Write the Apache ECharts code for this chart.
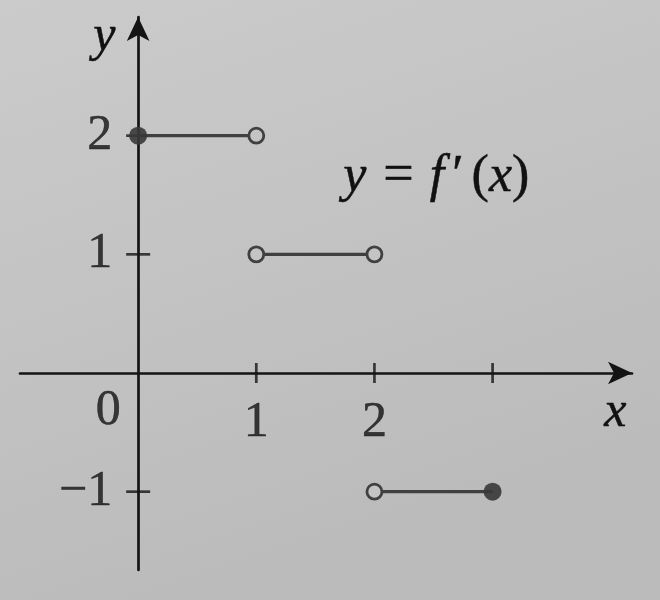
<!DOCTYPE html>
<html><head><meta charset="utf-8">
<script src="https://cdn.jsdelivr.net/npm/echarts@6/dist/echarts.min.js"></script>
<style>html,body{margin:0;padding:0;background:#c6c6c6;}#c{width:660px;height:600px;}</style>
</head><body><div id="c"></div>
<script>
// Piecewise segments of y = f'(x)
const segmentStartX = [0, 1, 2];
const segmentEndX = [1, 2, 3];
const segmentY = [2, 1, -1];
const startFilled = [true, false, false];
const endFilled = [false, false, true];
// Ticks and labels
const xTickValues = [1, 2, 3];
const xLabelValues = [1, 2];
const xLabelTexts = ['1', '2'];
const yTickValues = [2, 1, -1];
const yLabelValues = [2, 1, -1];
const yLabelTexts = ['2', '1', '\u22121'];
const originLabel = '0';

const INK = '#141414';
const TXT = '#111111';
const SEG = '#404040';
const BG = '#c4c4c4';
const SERIF = '"Liberation Serif", "DejaVu Serif", serif';
const NUM_FONT = 50;

const chart = echarts.init(document.getElementById('c'), null, {renderer: 'canvas'});

function endPoint(x, y, filled) {
  return {
    value: [x, y],
    symbol: 'circle',
    symbolSize: filled ? 18 : 15,
    itemStyle: filled
      ? {color: 'rgba(56,56,56,0.9)', borderWidth: 0}
      : {color: BG, borderColor: SEG, borderWidth: 2.8}
  };
}

const segSeries = segmentY.map((y, i) => ({
  type: 'line',
  z: 5,
  showAllSymbol: true,
  silent: true,
  lineStyle: {color: SEG, width: 3.2},
  data: [endPoint(segmentStartX[i], y, startFilled[i]), endPoint(segmentEndX[i], y, endFilled[i])]
}));

const numLabel = (extra) => Object.assign({
  show: true, fontSize: NUM_FONT, fontFamily: SERIF, color: TXT,
  textBorderColor: TXT, textBorderWidth: 0.5
}, extra);

const txtStyle = (font, pad) => ({font: font, fill: TXT, stroke: TXT, lineWidth: 0.5, padding: pad || 0});

const option = {
  backgroundColor: {
    type: 'linear', x: 0, y: 0, x2: 0.3, y2: 1,
    colorStops: [{offset: 0, color: '#cbcbcb'}, {offset: 1, color: '#bbbbbb'}]
  },
  animation: false,
  grid: {left: 20, right: 28, top: 17, bottom: 30, outerBoundsMode: 'none', containLabel: false},
  xAxis: {
    type: 'value', min: -1, max: 4.18,
    splitLine: {show: false},
    axisTick: {show: false},
    axisLabel: {show: false},
    axisLine: {onZero: true, symbol: ['none', 'arrow'], symbolSize: [17, 24], lineStyle: {color: INK, width: 2.7}}
  },
  yAxis: {
    type: 'value', min: -1.66, max: 3,
    splitLine: {show: false},
    axisTick: {show: false},
    axisLabel: {show: false},
    axisLine: {onZero: true, symbol: ['none', 'arrow'], symbolSize: [17, 24], lineStyle: {color: INK, width: 2.7}}
  },
  series: [
    {
      type: 'scatter', z: 3, symbol: 'rect', symbolSize: [2.7, 20], silent: true,
      itemStyle: {color: INK},
      data: xTickValues.map(v => [v, 0])
    },
    {
      type: 'scatter', z: 3, symbol: 'rect', symbolSize: [24, 2.7], silent: true,
      itemStyle: {color: INK},
      data: yTickValues.map(v => [0, v])
    },
    {
      type: 'scatter', z: 4, symbolSize: 0, silent: true,
      label: numLabel({position: [0, 50], align: 'center', verticalAlign: 'middle', formatter: p => xLabelTexts[p.dataIndex]}),
      data: xLabelValues.map(v => [v, 0])
    },
    {
      type: 'scatter', z: 4, symbolSize: 0, silent: true,
      label: numLabel({position: [-26, 0], align: 'right', verticalAlign: 'middle', formatter: p => yLabelTexts[p.dataIndex]}),
      data: yLabelValues.map(v => [0, v])
    },
    {
      type: 'scatter', z: 4, symbolSize: 0, silent: true,
      label: numLabel({position: [-30, 38], align: 'center', verticalAlign: 'middle', formatter: () => originLabel}),
      data: [[0, 0]]
    },
    ...segSeries
  ],
  graphic: [
    {type: 'text', left: 93, top: 12, style: {text: 'y', font: 'italic 50px ' + SERIF, fill: TXT, stroke: TXT, lineWidth: 0.5}},
    {type: 'text', left: 604, top: 388, style: {text: 'x', font: 'italic 50px ' + SERIF, fill: TXT, stroke: TXT, lineWidth: 0.5}},
    {type: 'text', left: 343, top: 150, style: {
      text: '{i|y}{e|=}{i|f}{p|\u2032}{q|(}{i|x}{r|)}',
      rich: {
        i: txtStyle('italic 52px ' + SERIF),
        e: txtStyle('54px ' + SERIF, [0, 16, 0, 17]),
        p: txtStyle('52px ' + SERIF, [0, 0, 0, 8]),
        q: txtStyle('52px ' + SERIF, [0, 0, 0, 8]),
        r: txtStyle('52px ' + SERIF)
      }
    }}
  ]
};
chart.setOption(option);
</script>
</body></html>
